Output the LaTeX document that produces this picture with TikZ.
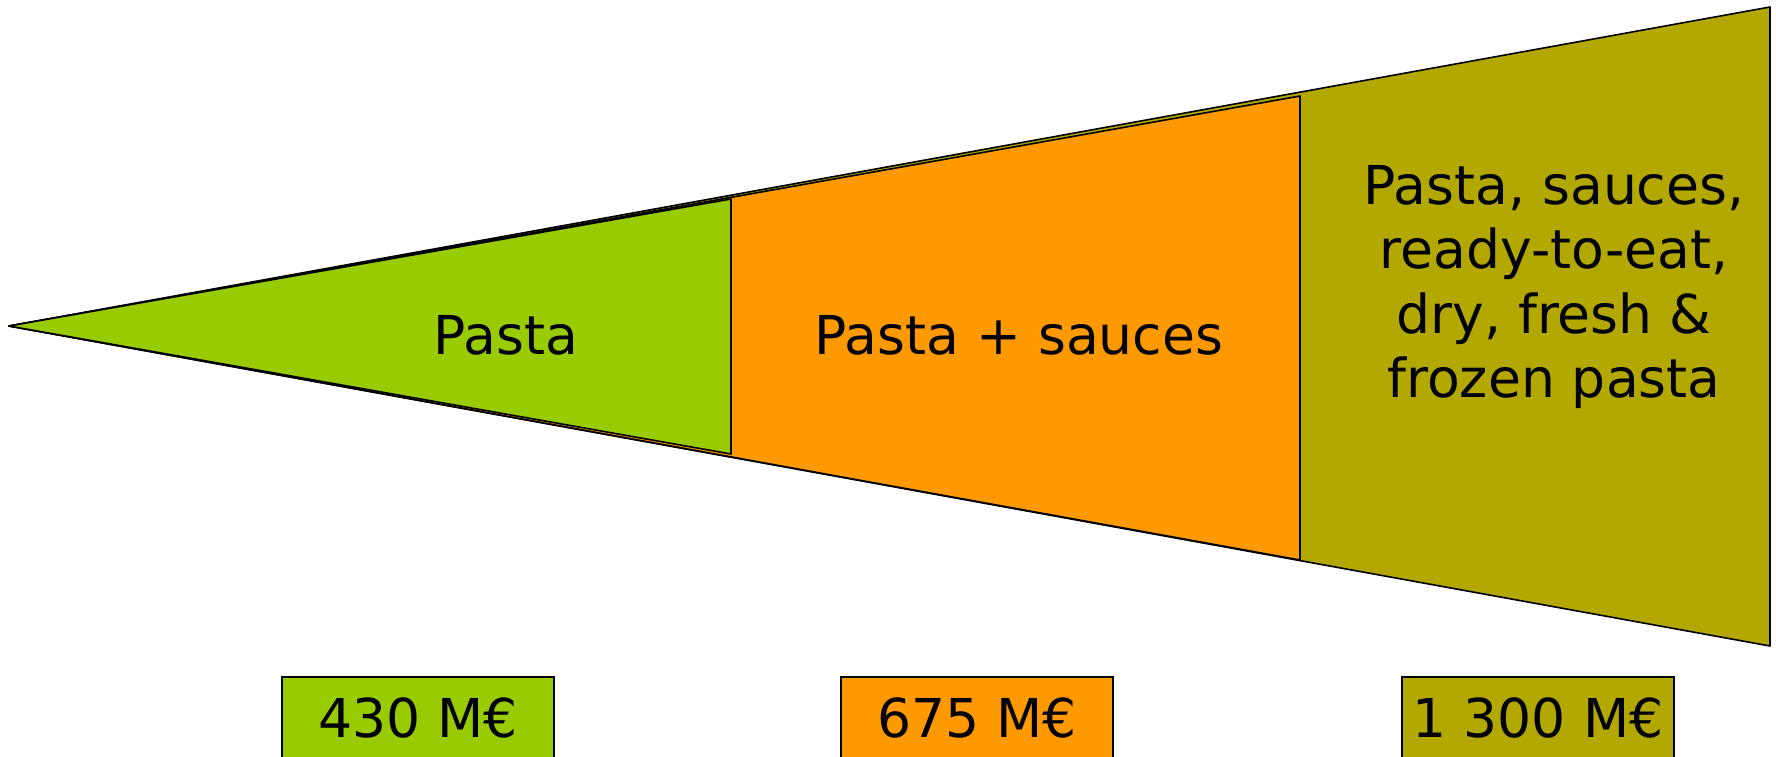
\documentclass[tikz,border=0pt]{standalone}
\usepackage{fontspec}
\setmainfont{DejaVu Sans}
\usepackage{tikz}

\definecolor{pastagreen}{HTML}{99CC00}
\definecolor{sauceorange}{HTML}{FF9900}
\definecolor{allolive}{HTML}{B3A800}

\begin{document}
\begin{tikzpicture}[x=0.5pt, y=-0.5pt, every node/.style={font=\fontsize{26.8}{32.3}\selectfont},
  wedge/.style={draw=black, line width=0.8pt, line join=round},
  pricebox/.style={draw=black, line width=0.8pt, minimum width=136pt, minimum height=41pt, inner sep=0pt}]
  \useasboundingbox (0,0) rectangle (1776,756);
  \coordinate (tip) at (9,326);
  \coordinate (allT) at (1770,7);
  \coordinate (allB) at (1770,646);
  \coordinate (sauceT) at (1300,96);
  \coordinate (sauceB) at (1300,560);
  \coordinate (pastaT) at (731,199);
  \coordinate (pastaB) at (731,454);

  \filldraw[wedge, fill=allolive] (tip) -- (allT) -- (allB) -- cycle;
  \filldraw[wedge, fill=sauceorange] (tip) -- (sauceT) -- (sauceB) -- cycle;
  \filldraw[wedge, fill=pastagreen] (tip) -- (pastaT) -- (pastaB) -- cycle;

  \node (pasta) at (506,335) {Pasta};
  \node (sauce) at (1019,335) {Pasta + sauces};
  \node (all) at (1554,287) [align=center] {Pasta, sauces,\\ready-to-eat,\\dry, fresh \&\\frozen pasta};

  \node (p1) at (418,718) [pricebox, fill=pastagreen] {430 M€};
  \node (p2) at (977,718) [pricebox, fill=sauceorange] {675 M€};
  \node (p3) at (1538,718) [pricebox, fill=allolive] {1 300 M€};
\end{tikzpicture}
\end{document}
